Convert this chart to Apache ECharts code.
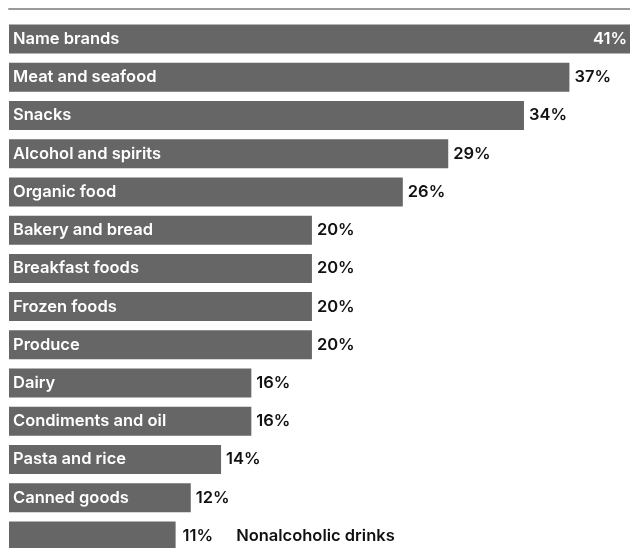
<!DOCTYPE html>
<html>
<head>
<meta charset="utf-8">
<script src="https://cdn.jsdelivr.net/npm/echarts@6/dist/echarts.min.js"></script>
<style>
html,body{margin:0;padding:0;background:#fff;overflow:hidden;}
#chart{width:630px;height:570px;}
</style>
</head>
<body>
<div id="chart"></div>
<script>
var categories = ["Name brands","Meat and seafood","Snacks","Alcohol and spirits","Organic food","Bakery and bread","Breakfast foods","Frozen foods","Produce","Dairy","Condiments and oil","Pasta and rice","Canned goods","Nonalcoholic drinks"];
var values = [41,37,34,29,26,20,20,20,20,16,16,14,12,11];
var insideValueIdx = [0];      // value label drawn inside bar end
var outsideNameIdx = [13];     // category name drawn outside bar

var FONT = 'Inter';
var FS = 16.5;
var chart = echarts.init(document.getElementById('chart'), null, {renderer:'canvas'});
chart.setOption({
  animation:false,
  backgroundColor:'#fff',
  grid:{left:9, right:0, top:20, height:535, containLabel:false},
  xAxis:{type:'value', min:0, max:41, position:'top', offset:11,
    axisLine:{show:true, lineStyle:{color:'#9a9a9a', width:2}},
    axisTick:{show:false}, axisLabel:{show:false}, splitLine:{show:false}},
  yAxis:{type:'category', data:categories, inverse:true,
    axisLine:{show:false}, axisTick:{show:false}, axisLabel:{show:false}},
  series:[
    {type:'bar', data:values, barWidth:29, itemStyle:{color:'#666666'},
     label:{show:true, position:'insideLeft', distance:4, color:'#ffffff',
       fontFamily:FONT, fontSize:FS, fontWeight:600,
       formatter:function(p){return outsideNameIdx.indexOf(p.dataIndex)>=0?'':p.name;}}},
    {type:'bar', data:values.map(function(v,i){
        var d={value:v};
        if(insideValueIdx.indexOf(i)>=0){d.label={position:'insideRight', color:'#ffffff', distance:3};}
        return d;}),
     barWidth:29, barGap:'-100%', itemStyle:{color:'rgba(0,0,0,0)'}, silent:true,
     label:{show:true, position:'right', distance:5, color:'#111111',
       fontFamily:FONT, fontSize:FS, fontWeight:600,
       formatter:function(p){
         if(outsideNameIdx.indexOf(p.dataIndex)>=0){return '{v|'+p.value+'%}{g|}{n|'+p.name+'}';}
         return p.value+'%';},
       rich:{v:{fontFamily:FONT,fontSize:FS,fontWeight:600,color:'#111',padding:[0,0,0,2]},
             g:{width:23},
             n:{fontFamily:FONT,fontSize:FS,fontWeight:600,color:'#111'}}}}
  ]
});
</script>
</body>
</html>
